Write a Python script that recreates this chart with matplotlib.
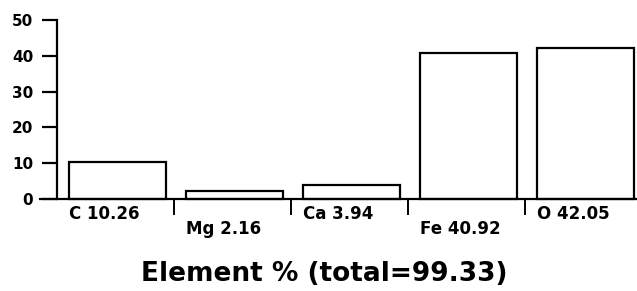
import matplotlib
matplotlib.use("Agg")
import matplotlib.pyplot as plt

elements = ["C", "Mg", "Ca", "Fe", "O"]
percent = [10.26, 2.16, 3.94, 40.92, 42.05]
yticks = [0, 10, 20, 30, 40, 50]
title = "Element % (total=99.33)"

plt.rcParams.update({"font.family": "DejaVu Sans", "font.weight": "bold"})
fig = plt.figure(figsize=(6.37, 2.91), dpi=100)
ax = fig.add_axes([40 / 637, 92 / 291, 597 / 637, 179 / 291])

x = list(range(len(elements)))
w = 0.83
ax.bar([i + 0.015 for i in x], percent, width=w, color="white", edgecolor="black",
       linewidth=1.6, clip_on=False)

ax.set_xlim(-0.645, 4.457)
ax.set_ylim(0, 50)
ax.spines["top"].set_visible(False)
ax.spines["right"].set_visible(False)
ax.spines["left"].set_position(("data", -0.5))
ax.spines["left"].set_linewidth(1.6)
ax.spines["bottom"].set_linewidth(1.6)

ax.set_yticks(yticks)
ax.set_yticklabels([str(v) for v in yticks], fontsize=11, fontweight="bold")
ax.tick_params(axis="y", length=11, width=1.6, pad=6)

# category separators below the axis
ax.set_xticks([i + 0.5 for i in x[:-1]])
ax.set_xticklabels([])
ax.tick_params(axis="x", length=11.5, width=1.4)

for i, (el, v) in enumerate(zip(elements, percent)):
    ypos = -4.2 if i % 2 == 0 else -8.4
    ax.text(i - w / 2 + 0.015, ypos, f"{el} {v:.2f}", ha="left", va="center",
            fontsize=12, fontweight="bold", clip_on=False)

fig.text(324 / 637, 1 - 274 / 291, title, ha="center", va="center",
         fontsize=19, fontweight="bold")

fig.savefig("out.png", dpi=100)
